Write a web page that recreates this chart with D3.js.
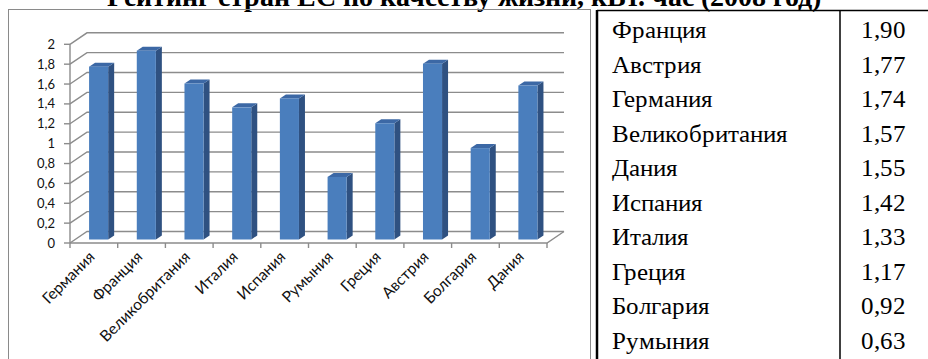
<!DOCTYPE html>
<html>
<head>
<meta charset="utf-8">
<script src="https://cdn.jsdelivr.net/npm/d3@7/dist/d3.min.js"></script>
<style>
  @font-face {
    font-family: "TableSerif";
    src: local("Liberation Serif"), local("LiberationSerif"), local("LiberationSerif-Regular"),
         local("DejaVu Serif"), local("DejaVuSerif"), local("Times New Roman");
    font-weight: normal;
  }
  @font-face {
    font-family: "TableSerif";
    src: local("Liberation Serif Bold"), local("LiberationSerif-Bold"),
         local("DejaVu Serif Bold"), local("DejaVuSerif-Bold"), local("Times New Roman Bold");
    font-weight: bold;
  }
  html, body { margin: 0; padding: 0; background: #fff; }
  svg { display: block; }
</style>
</head>
<body>
<svg id="chart" width="928" height="359"></svg>
<script>
// Countries in chart order and their values
const categories = ["Германия", "Франция", "Великобритания", "Италия", "Испания",
                    "Румыния", "Греция", "Австрия", "Болгария", "Дания"];
const values = [1.74, 1.90, 1.57, 1.33, 1.42, 0.63, 1.17, 1.77, 0.92, 1.55];
const yTicks = [0, 0.2, 0.4, 0.6, 0.8, 1, 1.2, 1.4, 1.6, 1.8, 2];
const titleText = "Рейтинг стран ЕС по качеству жизни, кВт. час (2008 год)";

const SERIF = "TableSerif, 'Liberation Serif', 'Times New Roman', 'DejaVu Serif', serif";
const SANS = "Lato, 'Open Sans', sans-serif";

const svg = d3.select("#chart");
const comma = v => String(v).replace(".", ",");
const fmt2 = v => d3.format(".2f")(v).replace(".", ",");

// Title (partly above the page edge)
svg.append("text")
  .style("font-family", SERIF)
  .attr("x", 464).attr("y", 6)
  .attr("text-anchor", "middle")
  .attr("font-weight", "bold")
  .attr("font-size", 28)
  .text(titleText);

// Chart frame
svg.append("rect")
  .attr("x", 8.5).attr("y", 9.5).attr("width", 582).attr("height", 360)
  .attr("fill", "none").attr("stroke", "#8a8a8a").attr("stroke-width", 1);

// 3D axes geometry
const x = d3.scaleBand().domain(categories).range([70, 547]);
const y = d3.scaleLinear().domain([0, 2]).range([243, 44.3]);
const depth = { dx: 17, dy: -11.5 };
const gridColor = "#8c8c8c";
const pts = a => a.map(p => p.join(",")).join(" ");

const g = svg.append("g");

// Back wall gridlines with left-wall diagonals
yTicks.forEach(v => {
  const yy = y(v);
  g.append("polyline")
    .attr("points", pts([[x.range()[0], yy], [x.range()[0] + depth.dx, yy + depth.dy],
                         [x.range()[1] + depth.dx, yy + depth.dy]]))
    .attr("fill", "none").attr("stroke", gridColor).attr("stroke-width", 1.4);
});

// Floor front edge and right diagonal
g.append("polyline")
  .attr("points", pts([[x.range()[0], y(0)], [x.range()[1], y(0)],
                       [x.range()[1] + depth.dx, y(0) + depth.dy]]))
  .attr("fill", "none").attr("stroke", gridColor).attr("stroke-width", 1.4);

// Value axis line, ticks and labels
g.append("line")
  .attr("x1", 70).attr("x2", 70).attr("y1", y(2)).attr("y2", y(0))
  .attr("stroke", gridColor).attr("stroke-width", 1.4);
yTicks.forEach(v => {
  g.append("line").attr("x1", 64).attr("x2", 70).attr("y1", y(v)).attr("y2", y(v))
    .attr("stroke", gridColor).attr("stroke-width", 1.4);
  g.append("text")
    .style("font-family", SANS)
    .attr("x", 55).attr("y", y(v)).attr("dy", "0.35em")
    .attr("text-anchor", "end")
    .attr("font-size", 13).attr("fill", "#111")
    .text(comma(v));
});

// Category ticks
const bounds = categories.map(c => x(c)).concat([x.range()[1]]);
bounds.forEach(b => {
  g.append("line").attr("x1", b).attr("x2", b).attr("y1", y(0)).attr("y2", y(0) + 5)
    .attr("stroke", gridColor).attr("stroke-width", 1.4);
});

// Category labels, rotated
categories.forEach(c => {
  const cx = x(c) + x.bandwidth() / 2 - 2;
  const cy = 254;
  g.append("text")
    .style("font-family", SANS)
    .attr("transform", `translate(${cx},${cy}) rotate(-45)`)
    .attr("text-anchor", "end").attr("dy", "0.35em")
    .attr("font-size", 15.5).attr("fill", "#111")
    .text(c);
});

// 3D columns
const barW = x.bandwidth() * 0.4;
const barOff = x.bandwidth() * 0.4;
const side = { dx: 6, dy: -4 };
const base = y(0) - 3.5;
const bars = g.append("g");
categories.forEach((c, i) => {
  const x0 = x(c) + barOff;
  const top = y(values[i]) - 3.5;
  const x1 = x0 + barW;
  bars.append("polygon")
    .attr("points", pts([[x1, top], [x1 + side.dx, top + side.dy], [x1 + side.dx, base + side.dy], [x1, base]]))
    .attr("fill", "#2f5181");
  bars.append("polygon")
    .attr("points", pts([[x0, top], [x0 + side.dx, top + side.dy], [x1 + side.dx, top + side.dy], [x1, top]]))
    .attr("fill", "#3c68a5");
  bars.append("rect")
    .attr("x", x0).attr("y", top).attr("width", barW).attr("height", base - top)
    .attr("fill", "#4a7ebd");
});

// Ranking table
const rows = categories.map((c, i) => ({ name: c, value: values[i] }))
  .sort((a, b) => b.value - a.value);
const t = svg.append("g");
t.append("line").attr("x1", 597).attr("x2", 928).attr("y1", 10.5).attr("y2", 10.5)
  .attr("stroke", "#000").attr("stroke-width", 1.5);
t.append("line").attr("x1", 597).attr("x2", 597).attr("y1", 10).attr("y2", 359)
  .attr("stroke", "#000").attr("stroke-width", 2.5);
t.append("line").attr("x1", 840).attr("x2", 840).attr("y1", 10).attr("y2", 359)
  .attr("stroke", "#000").attr("stroke-width", 1.5);
rows.forEach((r, i) => {
  const by = 38.3 + i * 34.5;
  t.append("text").style("font-family", SERIF).attr("x", 612).attr("y", by)
    .attr("font-size", 25).attr("fill", "#000").text(r.name);
  t.append("text").style("font-family", SERIF).attr("x", 906).attr("y", by).attr("text-anchor", "end")
    .attr("font-size", 25).attr("fill", "#000").text(fmt2(r.value));
});
</script>
</body>
</html>
